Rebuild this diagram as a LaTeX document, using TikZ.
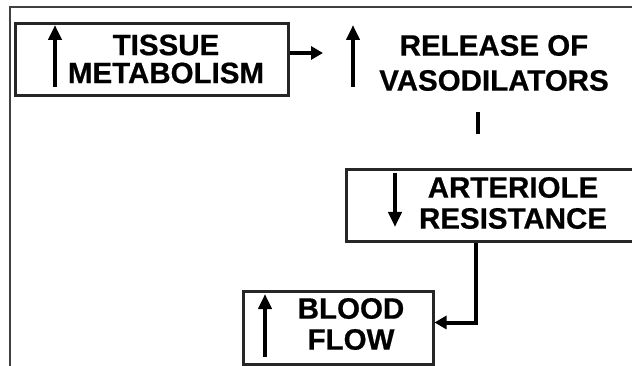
\documentclass[tikz,border=0pt]{standalone}
\usepackage{fontspec}
\setmainfont{Liberation Sans}
\newfontfamily\boxfont{Liberation Sans Bold}[FakeBold=0.6]
\usetikzlibrary{arrows.meta}

\tikzset{
  boxnode/.style={draw=black!85, line width=3pt, inner sep=0pt},
  label/.style={font=\fontsize{29.5}{31}\boxfont, align=center, inner sep=0pt},
  updown/.style={line width=4pt, -{Triangle[length=15pt,width=13pt]}},
  link/.style={line width=4pt, -{Triangle[length=12pt,width=13pt]}}
}

\begin{document}
\begin{tikzpicture}[x=1pt, y=-1pt]
\useasboundingbox (0,0) rectangle (632,366);
% frame round the figure
\draw[line width=2pt, black!75] (10,366) -- (10,7) -- (632,7);

% Tissue metabolism
\node[boxnode, minimum width=273pt, minimum height=72pt] (tissue) at (151.5,60) {};
\node[label] (tissueTxt) at (166,59) {TISSUE\\[-3pt]METABOLISM};
\draw[updown] (55,87) -- (55,25);

% Release of vasodilators
\node[label] (vaso) at (494,63) {RELEASE OF\\[4pt]VASODILATORS};
\draw[updown] (353,87) -- (353,25);
\coordinate (vasoIn) at (323,53);
\draw[line width=4pt] (478,112) -- (478,134);

% Arteriole resistance
\node[boxnode, minimum width=294pt, minimum height=72pt] (arteriole) at (493,206) {};
\node[label] (arterioleTxt) at (513,203) {ARTERIOLE\\RESISTANCE};
\draw[updown] (395,173) -- (395,227);

% Blood flow
\node[boxnode, minimum width=190pt, minimum height=73pt] (blood) at (338,327.5) {};
\node[label] (bloodTxt) at (351,324) {BLOOD\\FLOW};
\draw[updown] (265,357) -- (265,294);

% connectors
\draw[link] ([yshift=7pt]tissue.east) -- (vasoIn);
\draw[link] ([xshift=-17pt]arteriole.south) |- ([yshift=5pt]blood.east);
\end{tikzpicture}
\end{document}
